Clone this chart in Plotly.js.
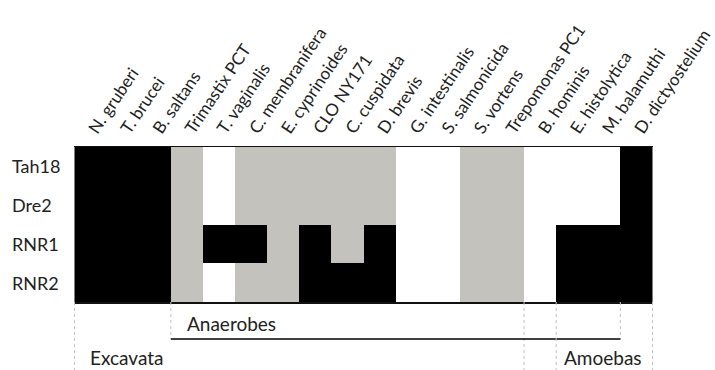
<!DOCTYPE html>
<html>
<head>
<meta charset="utf-8">
<script src="https://cdn.plot.ly/plotly-3.0.1.min.js"></script>
<style>html,body{margin:0;padding:0;background:#fff;}#chart{width:715px;height:370px;}</style>
</head>
<body>
<div id="chart"></div>
<script>
// Species (columns)
var species = ['N. gruberi','T. brucei','B. saltans','Trimastix PCT','T. vaginalis',
  'C. membranifera','E. cyprinoides','CLO NY171','C. cuspidata','D. brevis',
  'G. intestinalis','S. salmonicida','S. vortens','Trepomonas PC1','B. hominis',
  'E. histolytica','M. balamuthi','D. dictyostelium'];
// Genes (rows)
var genes = ['Tah18','Dre2','RNR1','RNR2'];
// 0 = white, 1 = grey, 2 = black
var tah18 = [2,2,2,1,0,1,1,1,1,1,0,0,1,1,0,0,0,2];
var dre2  = [2,2,2,1,0,1,1,1,1,1,0,0,1,1,0,0,0,2];
var rnr1  = [2,2,2,1,2,2,1,2,1,2,0,0,1,1,0,2,2,2];
var rnr2  = [2,2,2,1,0,1,1,2,2,2,0,0,1,1,0,2,2,2];
// Groups below the grid
var groupNames = ['Excavata','Anaerobes','Amoebas'];
var groupFirst = ['N. gruberi','Trimastix PCT','E. histolytica'];
var groupLast  = ['Trepomonas PC1','M. balamuthi','D. dictyostelium'];

var FONT = 'Lato, "Open Sans", sans-serif';
var plotW = 715 - 74 - 62, plotH = 370 - 147 - 68;

var trace = {
  type: 'heatmap',
  x: species, y: genes,
  z: [tah18, dre2, rnr1, rnr2],
  zmin: 0, zmax: 2,
  colorscale: [[0,'#ffffff'],[0.3333,'#ffffff'],[0.3333,'#c3c2bd'],[0.6667,'#c3c2bd'],[0.6667,'#000000'],[1,'#000000']],
  showscale: false, hoverinfo: 'skip', xgap: 0, ygap: 0
};

var shapes = [], annotations = [];
// row labels
genes.forEach(function(g){
  annotations.push({xref:'paper', yref:'y', x: -64/plotW, y: g, xanchor:'left', yanchor:'middle',
    text: g, showarrow:false, font:{family:FONT, size:18, color:'#222'}});
});
var yLine = -37/plotH, yBottom = -70/plotH;
var labelY = [-55/plotH, -21/plotH, -55/plotH];
var labelShift = [13, 14, 6];
groupNames.forEach(function(name, i){
  var a = species.indexOf(groupFirst[i]) - 0.5;
  var b = species.indexOf(groupLast[i]) + 0.5;
  var isUnder = (name === 'Anaerobes');
  var yEnd = isUnder ? yLine : yBottom;
  [a, b].forEach(function(xv){
    shapes.push({type:'line', xref:'x', yref:'paper', x0:xv, x1:xv, y0:0, y1:yEnd,
      line:{color:'#c4c4c4', width:1, dash:'3px,3px'}});
  });
  if (isUnder) {
    shapes.push({type:'line', xref:'x', yref:'paper', x0:a, x1:b, y0:yLine, y1:yLine,
      line:{color:'#000', width:1.5}});
  }
  annotations.push({xref:'x', yref:'paper', x:a, y:labelY[i], xanchor:'left', yanchor:'middle',
    xshift: labelShift[i], text:name, showarrow:false, font:{family:FONT, size:19, color:'#222'}});
});

var layout = {
  width: 715, height: 370,
  margin: {l:74, r:62, t:147, b:68, pad:0},
  paper_bgcolor:'#fff', plot_bgcolor:'#fff',
  showlegend:false,
  xaxis: {side:'top', type:'category', tickangle:-56, ticks:'', showgrid:false, zeroline:false,
    showline:true, mirror:true, linecolor:'#111', linewidth:1.5,
    tickfont:{family:FONT, size:17, color:'#222'}, automargin:false, fixedrange:true},
  yaxis: {type:'category', autorange:'reversed', showticklabels:false, ticks:'', showgrid:false,
    zeroline:false, showline:false, automargin:false, fixedrange:true},
  shapes: shapes, annotations: annotations
};

Plotly.newPlot('chart', [trace], layout, {displayModeBar:false, staticPlot:true});
</script>
</body>
</html>
